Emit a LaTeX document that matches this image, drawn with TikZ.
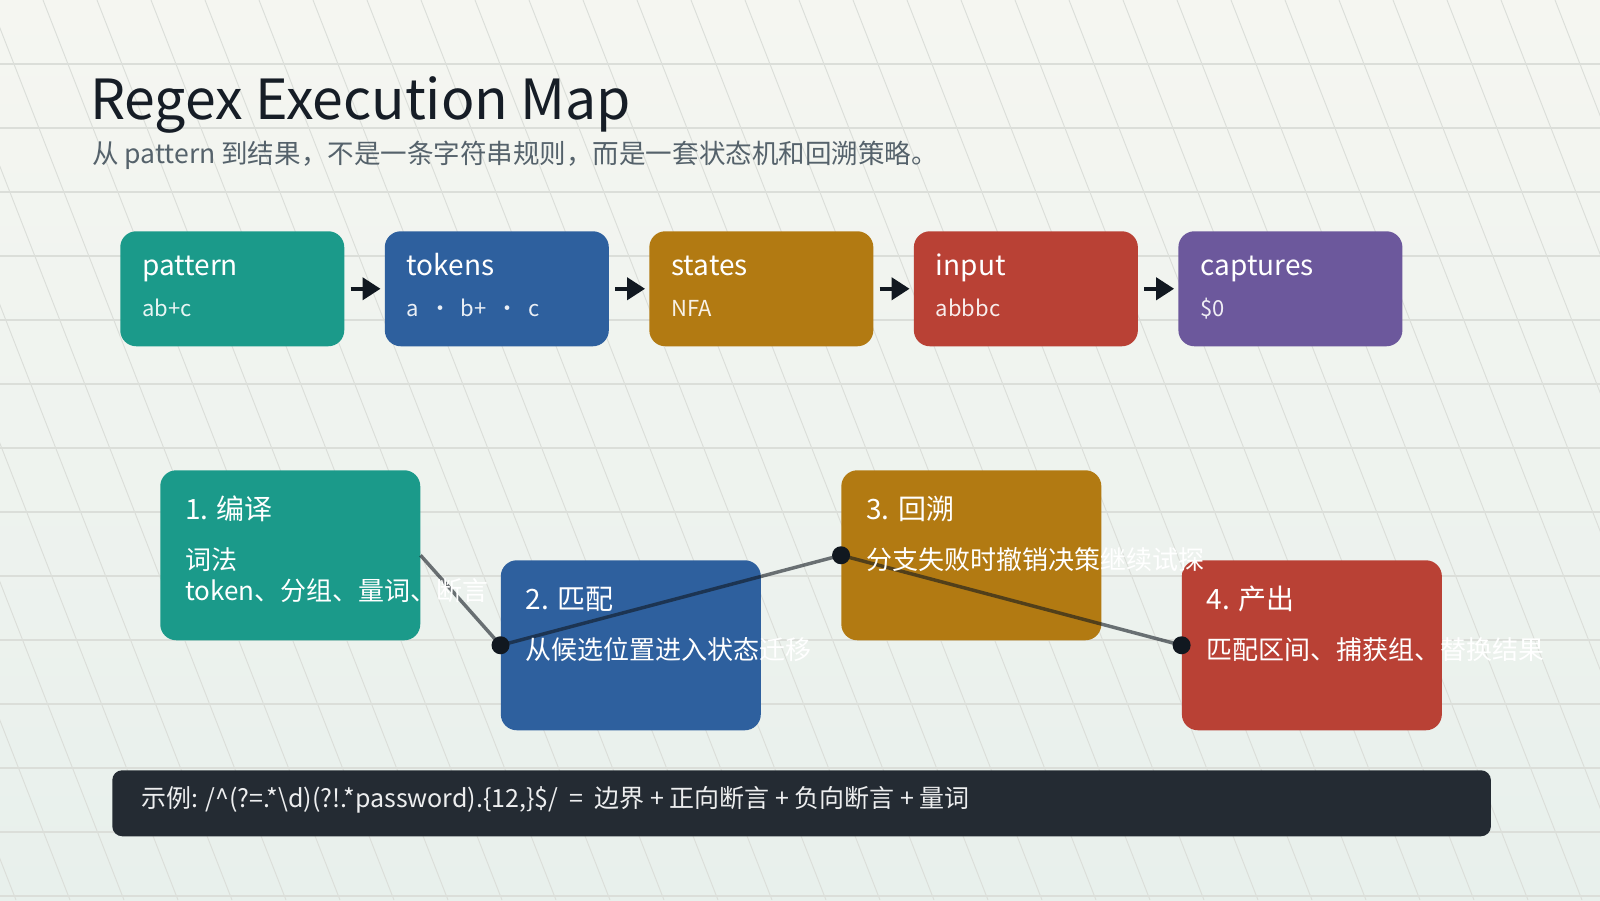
\documentclass[tikz,border=0pt]{standalone}
\usepackage{fontspec}
\setmainfont{Noto Sans CJK SC}
\usetikzlibrary{arrows.meta, positioning}
\definecolor{bgtop}{RGB}{245,246,241}
\definecolor{bgbot}{RGB}{232,240,236}
\definecolor{gridc}{RGB}{219,222,217}
\definecolor{inkc}{RGB}{22,29,38}
\definecolor{subc}{RGB}{85,98,107}
\definecolor{cteal}{RGB}{27,154,138}
\definecolor{cblue}{RGB}{46,96,158}
\definecolor{cgold}{RGB}{178,122,18}
\definecolor{cred}{RGB}{185,65,53}
\definecolor{cpurple}{RGB}{108,88,156}
\definecolor{cbar}{RGB}{36,43,51}
\definecolor{cdark}{RGB}{17,24,32}

\begin{document}
\begin{tikzpicture}[x=0.75pt, y=-0.75pt,
  tbox/.style={anchor=north west, rounded corners=12pt, minimum width=168pt,
               minimum height=86.25pt, inner sep=0pt},
  sbox/.style={anchor=north west, rounded corners=12pt, minimum width=195pt,
               minimum height=127.5pt, inner sep=0pt},
  hd/.style={anchor=base west, inner sep=0pt, text=white, font=\fontsize{21pt}{25pt}\selectfont},
  sub/.style={anchor=base west, inner sep=0pt, text=white, text opacity=0.9,
              font=\fontsize{16.5pt}{20pt}\selectfont},
  body/.style={anchor=base west, inner sep=0pt, text=white, font=\fontsize{19.5pt}{23pt}\selectfont},
  arr/.style={-{Triangle[length=13.5pt, width=16.5pt]}, line width=3pt, draw=cdark,
              shorten <=4.5pt, shorten >=3pt},
  conn/.style={line width=2.6pt, draw=cdark, draw opacity=0.6},
  gridh/.style={draw=gridc, line width=1.1pt},
  gridd/.style={draw=gridc, line width=0.7pt}]
\useasboundingbox (0,0) rectangle (1600,900);
\shade[top color=bgtop, bottom color=bgbot] (0,0) rectangle (1600,900);
\begin{scope}
  \clip (0,0) rectangle (1600,900);
  \foreach \k in {1,...,14} \draw[gridh] (0,64*\k) -- (1600,64*\k);
  \foreach \k in {-7,...,29} \draw[gridd] (43+54*\k,0) -- (394+54*\k,900);
\end{scope}

% title
\node[anchor=base west, inner sep=0pt, text=inkc, font=\fontsize{41.5pt}{48pt}\selectfont]
  (title) at (90,119) {Regex Execution Map};
\node[anchor=base west, inner sep=0pt, text=subc, font=\fontsize{19.9pt}{23pt}\selectfont]
  (subtitle) at (92,163) {从 pattern 到结果，不是一条字符串规则，而是一套状态机和回溯策略。};

% pipeline
\node[tbox, fill=cteal] (pat) at (120,231) {};
\node[tbox, fill=cblue, right=30pt of pat] (tok) {};
\node[tbox, fill=cgold, right=30pt of tok] (sta) {};
\node[tbox, fill=cred, right=30pt of sta] (inp) {};
\node[tbox, fill=cpurple, right=30pt of inp] (cap) {};
\draw[arr] (pat)--(tok); \draw[arr] (tok)--(sta); \draw[arr] (sta)--(inp); \draw[arr] (inp)--(cap);
\node[hd] (pat-h) at ([shift={(22,44)}]pat.north west) {pattern};
\node[sub] (pat-s) at ([shift={(22,85)}]pat.north west) {ab+c};
\node[hd] (tok-h) at ([shift={(22,44)}]tok.north west) {tokens};
\node[sub] (tok-s) at ([shift={(22,85)}]tok.north west) {a \ · \ b+ \ · \ c};
\node[hd] (sta-h) at ([shift={(22,44)}]sta.north west) {states};
\node[sub] (sta-s) at ([shift={(22,85)}]sta.north west) {NFA};
\node[hd] (inp-h) at ([shift={(22,44)}]inp.north west) {input};
\node[sub] (inp-s) at ([shift={(22,85)}]inp.north west) {abbbc};
\node[hd] (cap-h) at ([shift={(22,44)}]cap.north west) {captures};
\node[sub] (cap-s) at ([shift={(22,85)}]cap.north west) {\$0};

% stages
\node[sbox, fill=cteal] (comp) at (160,470) {};
\node[sbox, fill=cblue] (match) at ([shift={(80,90)}]comp.north east) {};
\node[sbox, fill=cgold] (back) at ([shift={(80,-90)}]match.north east) {};
\node[sbox, fill=cred] (out) at ([shift={(80,90)}]back.north east) {};
\draw[conn] (comp.east) -- (match.west) -- (back.west) -- (out.west);
\foreach \n in {match, back, out} \fill[cdark] (\n.west) circle (6.75pt);
\node[hd] (comp-h) at ([shift={(25,49)}]comp.north west) {1. 编译};
\node[body] (comp-b) at ([shift={(25,99)}]comp.north west) {词法};
\node[body] (comp-c) at ([shift={(0,31)}]comp-b.base west) {token、分组、量词、断言};
\node[hd] (match-h) at ([shift={(25,49)}]match.north west) {2. 匹配};
\node[body] (match-b) at ([shift={(25,99)}]match.north west) {从候选位置进入状态迁移};
\node[hd] (back-h) at ([shift={(25,49)}]back.north west) {3. 回溯};
\node[body] (back-b) at ([shift={(25,99)}]back.north west) {分支失败时撤销决策继续试探};
\node[hd] (out-h) at ([shift={(25,49)}]out.north west) {4. 产出};
\node[body] (out-b) at ([shift={(25,99)}]out.north west) {匹配区间、捕获组、替换结果};

% example bar
\node[anchor=north west, fill=cbar, rounded corners=7.5pt, minimum width=1034pt,
      minimum height=49.5pt, inner sep=0pt] (ex) at (112,770) {};
\node[anchor=base west, inner sep=0pt, text=white!92!cbar, font=\fontsize{18.75pt}{22pt}\selectfont]
  (ex-t) at ([shift={(29,37)}]ex.north west)
  {示例: /\textasciicircum(?=.*\textbackslash d)(?!.*password).\{12,\}\$/~~=~~边界 + 正向断言 + 负向断言 + 量词};
\end{tikzpicture}
\end{document}
